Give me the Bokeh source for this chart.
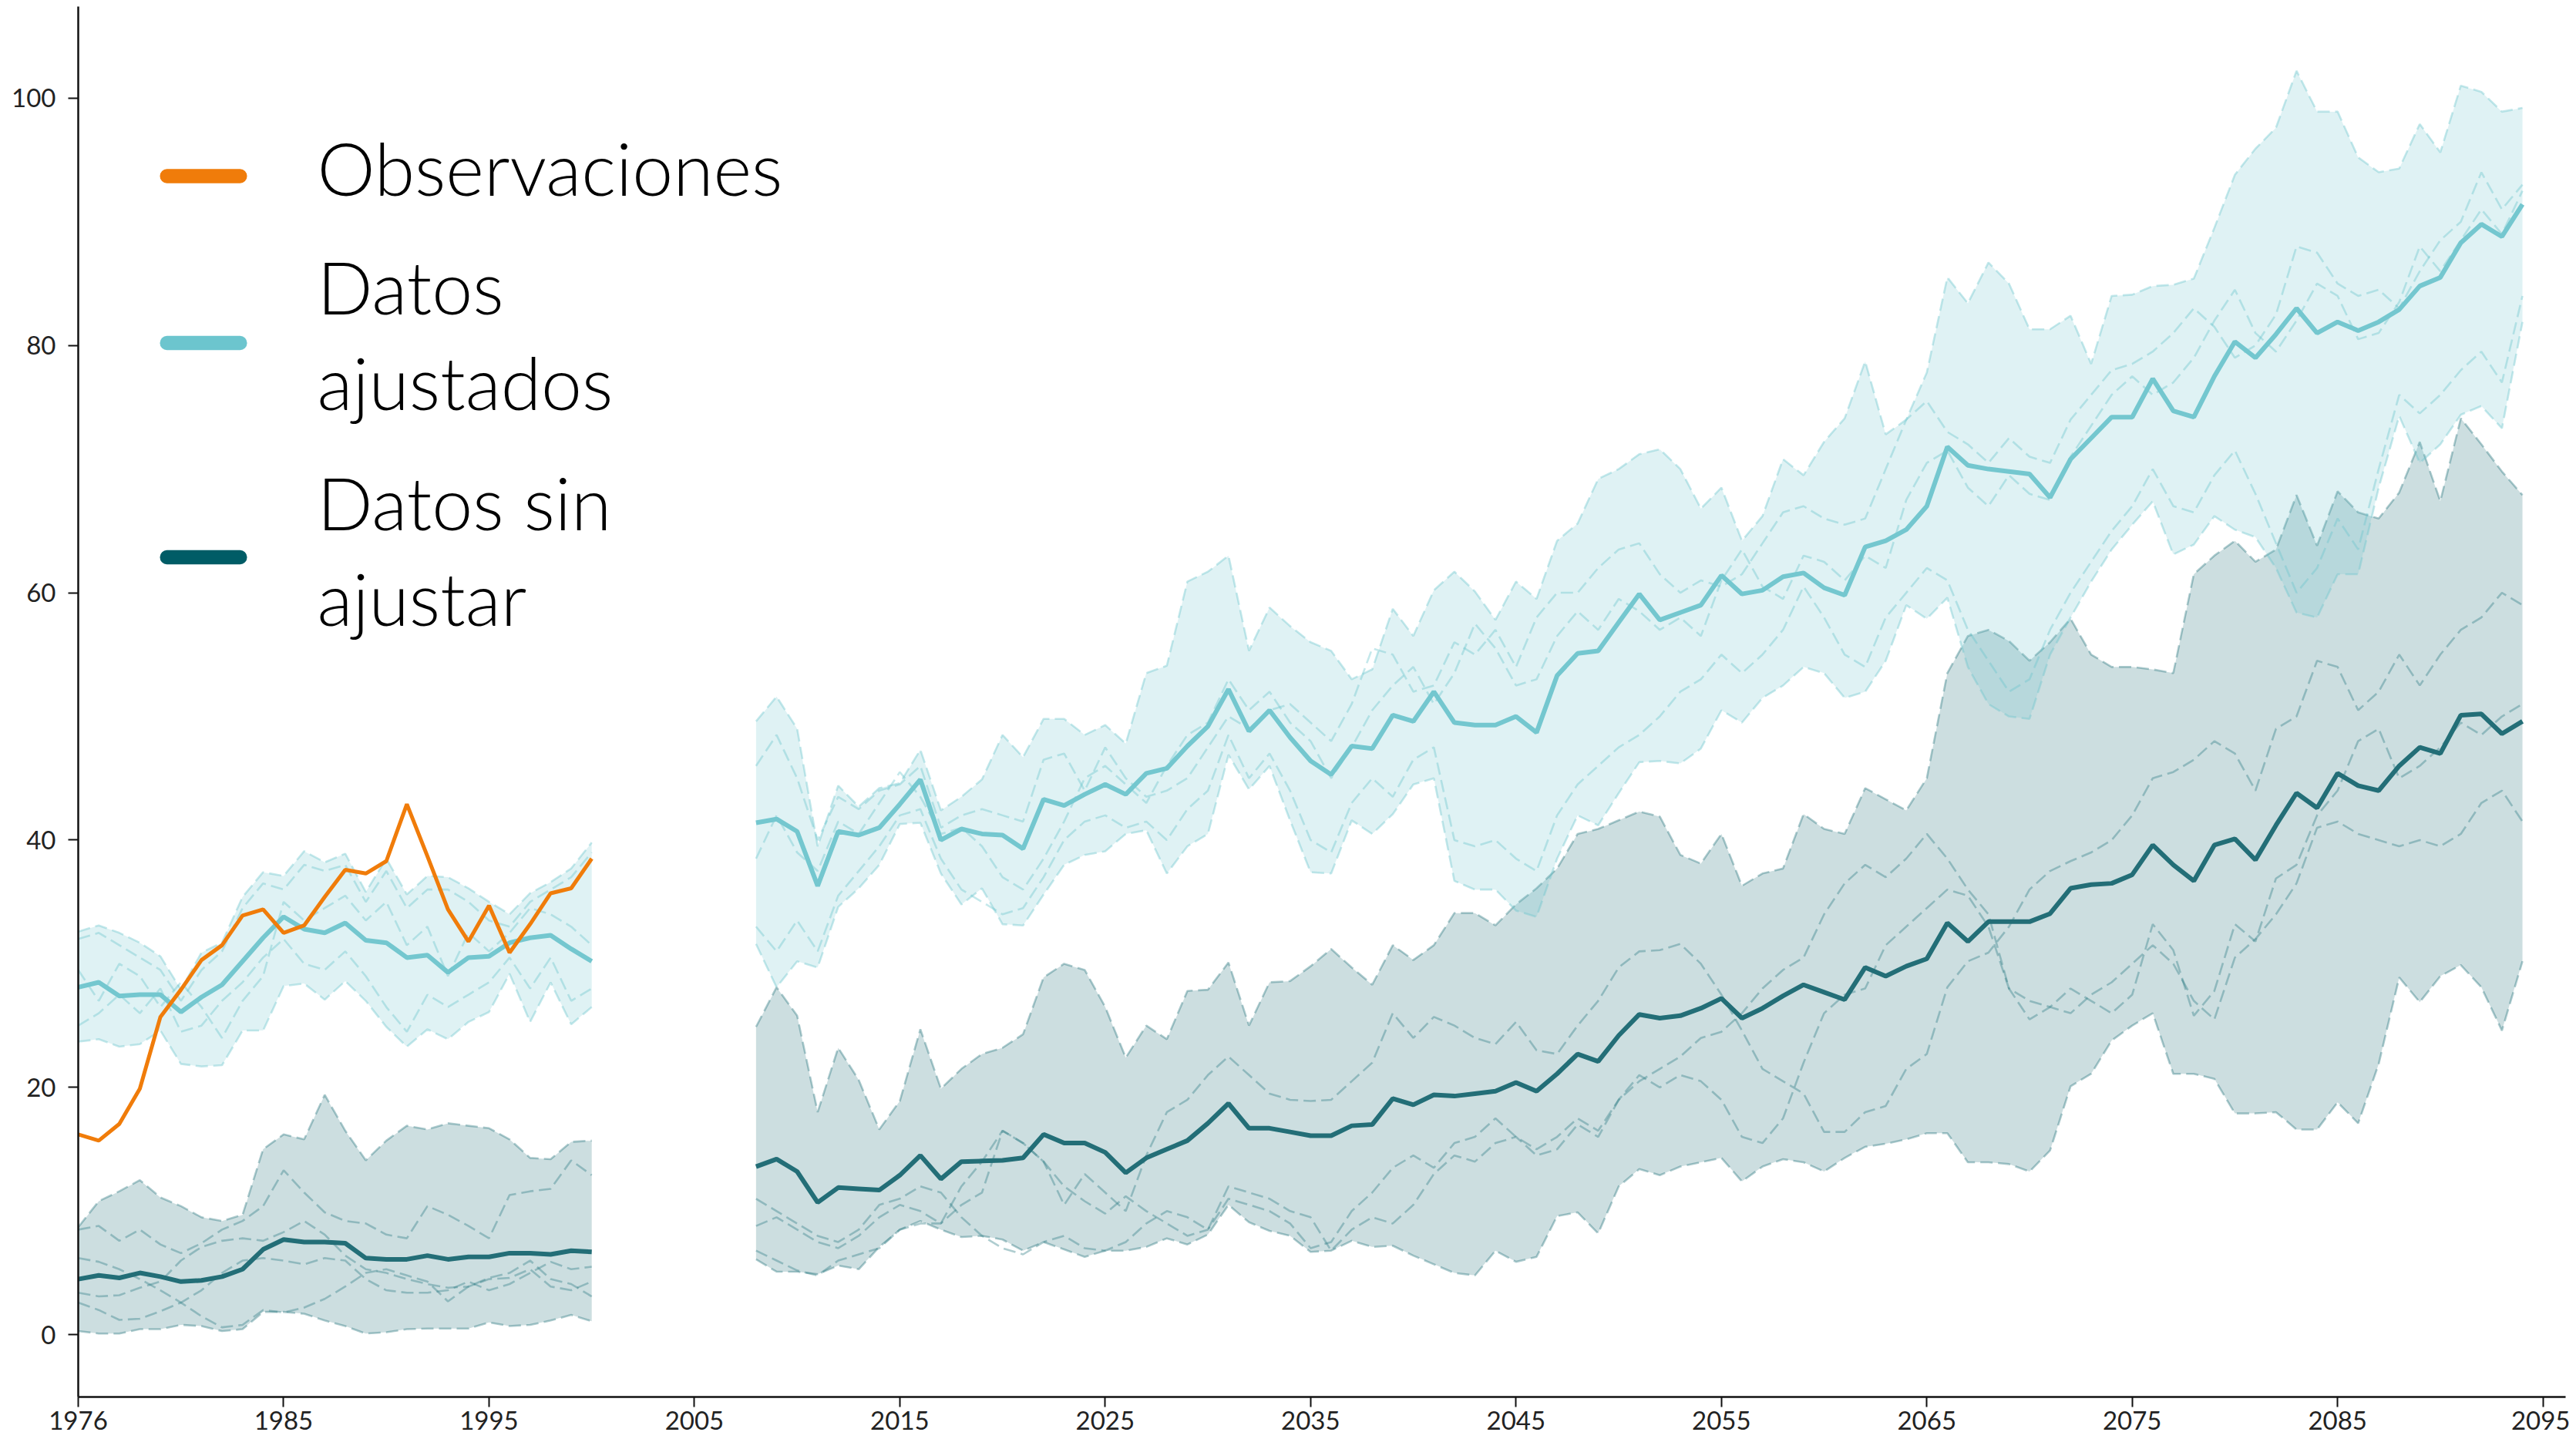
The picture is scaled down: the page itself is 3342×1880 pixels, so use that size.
from bokeh.plotting import figure
from bokeh.models import Range1d, FixedTicker, Label, BoxAnnotation
from bokeh.embed import file_html
from bokeh.resources import INLINE

# ---------------- data ----------------
years_hist = list(range(1975, 2001))
years_fut = list(range(2008, 2095))

x_ticks = [1975, 1985, 1995, 2005, 2015, 2025, 2035, 2045, 2055, 2065, 2075, 2085, 2095]
x_tick_labels = ["1976", "1985", "1995", "2005", "2015", "2025", "2035", "2045", "2055",
                 "2065", "2075", "2085", "2095"]
y_ticks = [0, 20, 40, 60, 80, 100]

legend_labels = ["Observaciones", "Datos\najustados", "Datos sin\najustar"]

observaciones = [16.2, 15.7, 17.05, 19.9, 25.7, 27.9, 30.3, 31.5, 33.9, 34.4, 32.5, 33.1, 35.4,
                 37.6, 37.3, 38.3, 42.9, 38.7, 34.4, 31.8, 34.7, 30.9, 33.2, 35.7, 36.1, 38.5]

# adjusted (ajustados), historical
adj_hist_mean = [28.1, 28.5, 27.4, 27.5, 27.5, 26.1, 27.3, 28.3, 30.2, 32.1, 33.8, 32.8, 32.5,
                 33.3, 31.9, 31.7, 30.5, 30.7, 29.3, 30.5, 30.6, 31.7, 32.1, 32.3, 31.2, 30.2]
adj_hist_hi = [32.6, 33.1, 32.5, 31.7, 30.6, 27.9, 30.9, 31.7, 35.4, 37.4, 37.1, 39.1, 38.2,
               38.9, 35.8, 38.5, 35.6, 37.1, 37.0, 36.1, 35.0, 34.0, 35.7, 36.6, 37.7, 39.8]
adj_hist_lo = [23.7, 23.9, 23.3, 23.5, 24.6, 21.9, 21.7, 21.8, 24.6, 24.6, 28.2, 28.4, 27.1,
               28.6, 27.0, 24.9, 23.3, 24.7, 23.9, 25.3, 26.1, 29.2, 25.3, 28.5, 25.1, 26.5]
adj_hist_m1 = [32.0, 32.5, 31.5, 30.5, 29.5, 27.0, 29.5, 31.0, 34.5, 36.5, 36.0, 38.0, 37.5,
               38.0, 35.0, 37.5, 34.5, 36.0, 36.0, 35.0, 33.5, 33.0, 35.0, 36.0, 37.0, 39.0]
adj_hist_m2 = [25.0, 26.0, 27.5, 26.0, 28.0, 24.5, 25.0, 27.0, 28.5, 30.5, 32.0, 30.0, 29.5,
               31.0, 29.0, 26.5, 24.5, 27.5, 26.5, 27.5, 28.5, 30.5, 28.0, 30.5, 27.0, 28.0]
adj_hist_m3 = [29.5, 27.0, 30.0, 29.0, 26.5, 28.5, 26.5, 24.0, 27.0, 29.0, 35.0, 33.5, 34.5,
               35.5, 33.5, 35.0, 31.5, 33.0, 29.0, 32.5, 31.0, 32.5, 34.5, 34.0, 33.0, 31.5]

# unadjusted (sin ajustar), historical
unadj_hist_mean = [4.5, 4.8, 4.6, 5.0, 4.7, 4.3, 4.4, 4.7, 5.3, 6.9, 7.7, 7.5, 7.5,
                   7.4, 6.2, 6.1, 6.1, 6.4, 6.1, 6.3, 6.3, 6.6, 6.6, 6.5, 6.8, 6.7]
unadj_hist_hi = [8.7, 10.8, 11.6, 12.5, 11.1, 10.4, 9.5, 9.2, 9.7, 15.0, 16.2, 15.8, 19.4,
                 16.5, 14.1, 15.7, 16.9, 16.6, 17.1, 16.9, 16.7, 15.8, 14.3, 14.2, 15.6, 15.7]
unadj_hist_lo = [0.3, 0.1, 0.1, 0.45, 0.45, 0.8, 0.7, 0.3, 0.45, 1.85, 1.85, 1.7, 1.15,
                 0.7, 0.1, 0.2, 0.45, 0.5, 0.5, 0.5, 1.0, 0.7, 0.8, 1.15, 1.6, 1.1]
unadj_hist_m1 = [8.5, 8.8, 7.6, 8.5, 7.3, 6.6, 7.4, 8.5, 9.2, 10.4, 13.3, 11.5, 9.9,
                 9.2, 9.0, 8.1, 7.8, 10.4, 9.7, 8.8, 7.8, 11.3, 11.6, 11.8, 14.1, 12.9]
unadj_hist_m2 = [6.2, 5.9, 5.3, 4.5, 3.6, 2.6, 1.5, 0.6, 0.8, 2.0, 1.8, 2.2, 2.9,
                 3.9, 5.0, 5.3, 4.8, 4.3, 2.7, 3.9, 4.6, 5.0, 6.0, 4.5, 4.1, 3.1]
unadj_hist_m3 = [3.4, 3.1, 3.2, 3.8, 4.3, 6.0, 7.1, 7.6, 7.8, 7.6, 8.3, 9.2, 8.1,
                 6.4, 5.3, 5.0, 4.5, 4.1, 3.8, 3.9, 4.5, 4.6, 5.3, 3.9, 3.6, 4.3]
unadj_hist_m4 = [2.6, 2.0, 1.2, 1.3, 1.9, 2.6, 3.6, 5.0, 6.0, 6.2, 6.0, 5.7, 6.2,
                 6.0, 4.5, 3.6, 3.4, 3.4, 3.6, 4.3, 3.6, 4.1, 5.0, 5.9, 5.3, 5.5]

# adjusted, future 2008-2094
adj_fut_mean = [41.4, 41.7, 40.7, 36.3, 40.7, 40.4, 41.0, 42.9, 44.9, 40.0, 40.9, 40.5,
                40.4, 39.3, 43.3, 42.8, 43.7, 44.5, 43.7, 45.4, 45.8, 47.6, 49.2, 52.2,
                48.8, 50.5, 48.3, 46.4, 45.3, 47.6, 47.4, 50.1, 49.6, 52.0, 49.5, 49.3,
                49.3, 50.0, 48.7, 53.3, 55.1, 55.3, 57.6, 59.9, 57.8, 58.4, 59.0, 61.4,
                59.9, 60.2, 61.3, 61.6, 60.4, 59.8, 63.7, 64.2, 65.1, 67.0, 71.8, 70.3,
                70.0, 69.8, 69.6, 67.7, 70.8, 72.5, 74.2, 74.2, 77.3, 74.7, 74.2, 77.5,
                80.3, 79.0, 80.9, 83.0, 81.0, 81.9, 81.2, 81.9, 82.9, 84.8, 85.5, 88.3, 89.8, 88.8, 91.4]
adj_fut_hi = [49.6, 51.6, 49.0, 39.5, 44.4, 42.7, 44.2, 44.6, 47.3, 42.4, 43.5, 44.9,
              48.5, 46.7, 49.8, 49.8, 48.5, 49.3, 47.8, 53.5, 54.1, 60.9, 61.7, 63.0,
              55.3, 58.8, 57.3, 56.0, 55.3, 53.0, 53.8, 58.7, 56.5, 60.2, 61.7, 60.1,
              57.8, 60.9, 59.5, 64.2, 65.6, 69.2, 70.0, 71.2, 71.6, 70.0, 66.8, 68.5,
              64.2, 66.2, 70.8, 69.5, 72.2, 74.1, 78.7, 72.8, 74.0, 77.8, 85.5, 83.4,
              86.7, 85.0, 81.3, 81.3, 82.4, 78.5, 84.0, 84.1, 84.8, 84.9, 85.4, 89.5,
              93.8, 95.9, 97.6, 102.2, 98.9, 98.9, 95.2, 94.0, 94.3, 97.9, 95.6, 101.0, 100.5, 98.9, 99.2]
adj_fut_lo = [31.6, 28.1, 30.2, 29.7, 34.6, 36.1, 38.0, 41.3, 41.4, 37.3, 34.8, 36.1,
              33.2, 33.1, 35.6, 38.0, 38.8, 39.1, 40.5, 40.8, 37.3, 39.5, 40.5, 46.9,
              44.1, 46.0, 41.6, 37.4, 37.3, 41.6, 40.5, 42.1, 44.5, 45.0, 36.7, 36.0,
              36.0, 34.3, 33.8, 38.5, 42.0, 41.2, 43.8, 46.3, 46.4, 46.2, 47.4, 50.5,
              49.5, 51.5, 52.5, 54.0, 53.5, 51.5, 52.0, 54.5, 59.0, 57.9, 59.6, 54.0,
              51.0, 50.0, 49.8, 55.0, 58.0, 60.9, 63.5, 65.5, 67.4, 63.1, 63.9, 66.2,
              65.1, 64.5, 62.0, 58.4, 58.0, 61.5, 61.5, 68.5, 74.3, 70.5, 72.0, 74.4, 75.1, 73.3, 81.9]
adj_fut_m1 = [46.0, 48.5, 45.0, 40.0, 43.5, 42.5, 44.0, 44.5, 46.0, 41.0, 42.0, 42.5,
              42.0, 41.5, 46.5, 47.0, 44.0, 47.5, 45.0, 43.5, 44.0, 45.0, 47.5, 50.0,
              49.0, 50.5, 51.0, 49.5, 48.0, 51.0, 55.5, 55.0, 52.0, 52.5, 56.0, 55.0,
              57.0, 54.0, 58.0, 60.0, 60.0, 62.0, 63.5, 64.0, 61.5, 60.0, 61.0, 60.5,
              61.5, 64.0, 66.5, 67.0, 66.0, 65.5, 66.0, 70.0, 74.0, 75.5, 73.0, 72.0,
              70.5, 72.5, 71.0, 70.5, 74.0, 76.0, 78.0, 78.5, 79.5, 81.0, 83.0, 81.5,
              79.0, 80.0, 82.5, 88.0, 87.5, 85.0, 84.0, 84.5, 83.0, 86.0, 88.5, 90.0, 94.0, 91.0, 93.0]
adj_fut_m2 = [33.0, 31.0, 33.5, 31.0, 35.5, 37.5, 39.5, 42.0, 42.5, 38.5, 36.0, 35.0,
              34.0, 34.5, 37.0, 40.0, 41.5, 42.0, 41.0, 41.5, 40.0, 42.5, 44.0, 48.5,
              45.0, 47.0, 44.0, 40.0, 39.0, 43.0, 45.0, 43.5, 46.5, 47.5, 40.0, 39.5,
              40.0, 38.5, 37.5, 42.0, 44.5, 46.0, 47.5, 48.5, 50.0, 52.0, 53.0, 55.0,
              53.5, 55.0, 57.0, 60.5, 58.0, 55.0, 54.0, 58.0, 60.0, 62.0, 61.0, 57.0,
              54.5, 52.0, 53.0, 57.0, 60.0, 62.5, 65.0, 67.0, 70.0, 67.0, 66.5, 69.5,
              71.5, 68.0, 64.0, 60.0, 62.0, 66.0, 63.5, 70.0, 76.0, 74.5, 76.0, 78.0, 79.5, 77.0, 84.0]
adj_fut_m3 = [38.5, 42.0, 39.0, 37.5, 41.5, 40.5, 43.0, 45.5, 43.5, 40.5, 41.0, 39.5,
              37.0, 36.0, 38.5, 41.5, 45.0, 46.0, 44.5, 43.0, 46.0, 48.5, 49.5, 53.0,
              50.5, 52.0, 49.5, 48.0, 45.0, 47.5, 50.5, 52.5, 54.0, 51.0, 53.5, 57.5,
              55.5, 52.5, 53.0, 56.5, 58.5, 57.0, 59.5, 58.5, 57.0, 58.0, 56.5, 61.0,
              63.5, 60.5, 59.5, 63.0, 62.5, 61.0, 63.0, 62.0, 67.5, 70.5, 71.5, 68.5,
              67.0, 69.5, 68.0, 67.5, 71.0, 73.5, 76.0, 77.5, 76.0, 77.0, 79.0, 82.0,
              84.5, 81.0, 79.5, 82.0, 85.0, 84.0, 80.5, 81.0, 83.5, 88.0, 86.0, 88.5, 91.0, 89.0, 92.5]

# unadjusted, future 2008-2094
unadj_fut_mean = [13.6, 14.2, 13.2, 10.7, 11.9, 11.8, 11.7, 12.9, 14.5, 12.6, 14.0, 14.05,
                  14.1, 14.3, 16.2, 15.5, 15.5, 14.75, 13.1, 14.3, 15.0, 15.7, 17.1, 18.7,
                  16.7, 16.7, 16.4, 16.1, 16.1, 16.9, 17.0, 19.1, 18.6, 19.4, 19.3, 19.5,
                  19.7, 20.4, 19.7, 21.1, 22.7, 22.1, 24.2, 25.9, 25.6, 25.8, 26.4, 27.2,
                  25.6, 26.4, 27.4, 28.3, 27.7, 27.1, 29.7, 29.0, 29.8, 30.4, 33.3, 31.8,
                  33.4, 33.4, 33.4, 34.05, 36.1, 36.4, 36.5, 37.2, 39.6, 38.0, 36.7, 39.6,
                  40.1, 38.4, 41.2, 43.8, 42.6, 45.4, 44.4, 44.0, 46.0, 47.5, 47.0, 50.1, 50.2, 48.6, 49.6]
unadj_fut_hi = [24.9, 28.1, 25.8, 18.0, 23.2, 20.6, 16.6, 18.9, 24.7, 19.9, 21.5, 22.7,
                23.2, 24.3, 28.9, 30.0, 29.5, 26.5, 22.4, 25.0, 23.9, 27.8, 27.9, 30.1,
                25.0, 28.5, 28.6, 29.8, 31.2, 29.7, 28.3, 31.5, 30.3, 31.5, 34.1, 34.1,
                33.1, 34.8, 36.1, 37.7, 40.5, 40.9, 41.6, 42.3, 41.9, 38.8, 38.1, 40.5,
                36.3, 37.3, 37.7, 42.1, 40.9, 40.5, 44.2, 43.3, 42.4, 45.0, 53.5, 56.5,
                57.0, 56.1, 54.5, 56.0, 57.9, 55.0, 54.0, 54.0, 53.8, 53.5, 61.5, 63.0,
                64.2, 62.5, 63.5, 67.9, 63.8, 68.2, 66.5, 66.0, 68.1, 72.2, 67.4, 74.1, 72.0, 69.8, 67.9]
unadj_fut_lo = [6.1, 5.1, 5.1, 4.9, 5.6, 5.3, 7.1, 8.5, 9.2, 8.5, 7.9, 8.0,
                7.7, 6.8, 7.5, 6.9, 6.3, 6.8, 6.8, 7.1, 7.8, 7.3, 8.1, 10.5,
                9.1, 8.4, 8.0, 6.7, 6.8, 7.6, 7.1, 7.2, 6.4, 5.7, 5.0, 4.8,
                6.8, 5.9, 6.3, 9.6, 9.9, 8.2, 12.0, 13.4, 12.9, 13.6, 13.95, 14.3,
                12.4, 13.6, 14.2, 13.95, 13.2, 14.3, 15.2, 15.45, 15.8, 16.3, 16.3, 13.95,
                13.95, 13.8, 13.2, 14.9, 20.1, 21.1, 23.8, 25.0, 26.0, 21.1, 21.1, 20.7,
                17.9, 17.9, 18.0, 16.6, 16.6, 18.8, 17.1, 21.9, 28.9, 26.9, 29.0, 29.9, 28.1, 24.6, 30.2]
unadj_fut_m1 = [8.8, 9.5, 8.5, 7.5, 7.0, 8.0, 9.5, 10.5, 10.0, 9.0, 12.0, 14.0,
                16.5, 15.5, 14.0, 10.5, 13.0, 11.5, 10.0, 14.5, 18.0, 19.0, 21.0, 22.5,
                21.0, 19.5, 19.0, 18.9, 19.0, 20.5, 22.0, 26.0, 24.0, 25.7, 25.0, 24.0,
                23.5, 25.3, 23.0, 22.7, 25.0, 27.0, 29.7, 31.0, 31.1, 31.6, 30.0, 27.5,
                24.6, 21.5, 20.5, 19.5, 16.4, 16.4, 18.0, 18.5, 21.5, 22.7, 28.1, 30.2,
                30.9, 33.0, 36.0, 37.5, 38.3, 39.0, 40.0, 42.0, 45.0, 45.5, 46.5, 48.0,
                47.0, 44.0, 49.0, 50.0, 54.5, 54.0, 50.5, 52.0, 55.0, 52.5, 55.0, 57.0, 58.0, 60.0, 59.0]
unadj_fut_m2 = [6.8, 6.0, 5.2, 4.8, 6.0, 6.5, 7.0, 8.5, 9.0, 9.0, 10.5, 11.5,
                16.5, 15.5, 14.0, 12.0, 10.8, 9.8, 11.2, 10.0, 9.0, 8.0, 8.5, 11.0,
                10.5, 10.0, 9.0, 7.0, 7.5, 10.0, 11.5, 13.5, 14.5, 13.5, 15.5, 16.0,
                17.5, 16.0, 15.0, 16.0, 17.5, 16.5, 19.0, 21.0, 20.0, 21.0, 20.5, 19.0,
                16.0, 15.5, 17.5, 22.0, 26.0, 27.5, 28.0, 31.5, 33.0, 34.5, 36.0, 35.5,
                33.0, 28.0, 27.0, 26.5, 26.0, 27.5, 28.5, 30.0, 31.5, 30.0, 27.0, 25.5,
                30.5, 32.0, 34.0, 36.5, 41.0, 41.5, 40.5, 40.0, 39.5, 40.0, 39.5, 40.5, 43.0, 44.0, 41.5]
unadj_fut_m3 = [11.0, 10.0, 9.0, 8.0, 7.5, 8.5, 10.5, 11.0, 12.0, 11.5, 9.5, 8.0,
                7.0, 6.5, 7.5, 8.0, 7.0, 6.8, 7.5, 9.0, 10.0, 9.5, 8.5, 12.0,
                11.5, 11.0, 10.0, 9.5, 6.8, 8.5, 9.5, 9.0, 10.5, 13.0, 14.5, 14.0,
                15.5, 16.0, 14.5, 15.0, 17.0, 16.0, 19.0, 20.5, 21.5, 22.5, 24.0, 24.5,
                26.0, 28.0, 29.5, 30.5, 34.0, 36.5, 38.0, 37.0, 38.5, 40.5, 38.5, 36.0,
                34.0, 28.0, 25.5, 26.5, 28.0, 27.0, 26.0, 27.5, 33.2, 31.1, 25.8, 27.8,
                33.2, 31.8, 36.9, 38.0, 42.0, 44.0, 48.0, 49.0, 45.0, 46.0, 47.5, 49.5, 48.5, 50.0, 51.0]

# ---------------- styles ----------------
ORANGE = "#F07C0A"
CYAN = "#6CC5CE"
CYAN_LINE = "#74C7CF"
DARK = "#005C66"
DARK_LINE = "#236E77"
LEGEND_FONT = "Lato Light, Lato"
TICK_FONT = "Lato"

p = figure(width=3334, height=1874,
           x_range=Range1d(1975, 2096.1), y_range=Range1d(-5.03, 107.4),
           output_backend="svg", toolbar_location=None,
           min_border_left=101, min_border_right=6, min_border_top=8, min_border_bottom=62)
p.grid.visible = False
p.outline_line_color = None
p.background_fill_color = "white"
p.border_fill_color = "white"

for ax in (p.xaxis[0], p.yaxis[0]):
    ax.axis_line_width = 2.5
    ax.axis_line_color = "#111111"
    ax.major_tick_line_width = 2
    ax.major_tick_line_color = "#111111"
    ax.major_tick_out = 13
    ax.major_tick_in = 0
    ax.minor_tick_line_color = None
    ax.major_label_text_font = TICK_FONT
    ax.major_label_text_font_size = "33px"
    ax.major_label_text_color = "#222222"

p.xaxis.ticker = FixedTicker(ticks=x_ticks)
p.xaxis.major_label_overrides = {t: lab for t, lab in zip(x_ticks, x_tick_labels)}
p.xaxis.major_label_standoff = 5
p.yaxis.ticker = FixedTicker(ticks=y_ticks)
p.yaxis.major_label_standoff = 16

DASH = "16 7"


def band(xs, lo, hi, color, fill_alpha, edge_alpha):
    p.varea(x=xs, y1=lo, y2=hi, fill_color=color, fill_alpha=fill_alpha)
    for edge in (lo, hi):
        p.line(xs, edge, line_color=color, line_alpha=edge_alpha, line_width=2.6, line_dash=DASH)


def members(xs, series, color, alpha):
    for s in series:
        p.line(xs, s, line_color=color, line_alpha=alpha, line_width=2.6, line_dash=DASH)


# unadjusted bands (sin ajustar)
band(years_hist, unadj_hist_lo, unadj_hist_hi, DARK, 0.2, 0.32)
band(years_fut, unadj_fut_lo, unadj_fut_hi, DARK, 0.2, 0.32)
members(years_hist, [unadj_hist_m1, unadj_hist_m2, unadj_hist_m3, unadj_hist_m4], "#2E7C84", 0.38)
members(years_fut, [unadj_fut_m1, unadj_fut_m2, unadj_fut_m3], "#2E7C84", 0.38)

# adjusted bands (ajustados)
band(years_hist, adj_hist_lo, adj_hist_hi, CYAN, 0.22, 0.4)
band(years_fut, adj_fut_lo, adj_fut_hi, CYAN, 0.22, 0.4)
members(years_hist, [adj_hist_m1, adj_hist_m2, adj_hist_m3], CYAN, 0.4)
members(years_fut, [adj_fut_m1, adj_fut_m2, adj_fut_m3], CYAN, 0.4)

# means
p.line(years_hist, unadj_hist_mean, line_color=DARK_LINE, line_width=6)
p.line(years_fut, unadj_fut_mean, line_color=DARK_LINE, line_width=6)
p.line(years_hist, adj_hist_mean, line_color=CYAN_LINE, line_width=6)
p.line(years_fut, adj_fut_mean, line_color=CYAN_LINE, line_width=6)

# observations
p.line(years_hist, observaciones, line_color=ORANGE, line_width=5)

# ---------------- legend (screen units, relative to the plot frame) ----------------
legend_colors = [ORANGE, CYAN, DARK]
swatch_centers = [1584.0, 1367.5, 1089.5]
label_baselines = [[1595.3], [1441.6, 1317.9], [1161.6, 1037.2]]
for lab, col, yc, bases in zip(legend_labels, legend_colors, swatch_centers, label_baselines):
    p.add_layout(BoxAnnotation(left=106, right=219, bottom=yc - 9.2, top=yc + 9.2,
                               left_units="screen", right_units="screen",
                               top_units="screen", bottom_units="screen",
                               fill_color=col, fill_alpha=1.0, line_color=None,
                               border_radius=9))
    for line_text, yb in zip(lab.split("\n"), bases):
        p.add_layout(Label(x=310, y=yb, x_units="screen", y_units="screen",
                           text=line_text, text_font=LEGEND_FONT, text_font_size="95px",
                           text_color="#000000", text_baseline="alphabetic",
                           text_align="left"))

open("out.html", "w").write(file_html(p, INLINE))
